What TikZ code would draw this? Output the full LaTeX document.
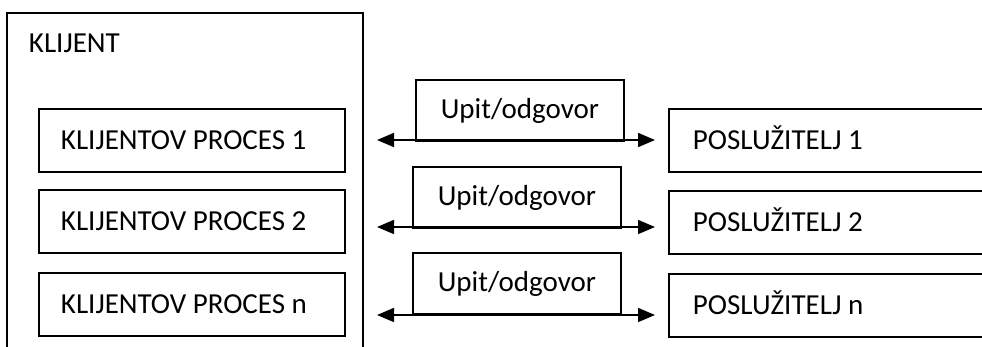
\documentclass[tikz,border=0pt]{standalone}
\usepackage{fontspec}
\setmainfont{Carlito}
\usetikzlibrary{arrows.meta}
\begin{document}
\begin{tikzpicture}[x=1pt,y=-1pt,
  font=\fontsize{29}{34}\selectfont,
  every node/.style={line width=1.9pt},
  procbox/.style={draw, anchor=north west, minimum width=306pt, minimum height=63pt,
    text width=262pt, inner xsep=22pt, inner ysep=0pt, align=flush left,
    text height=18.7pt, text depth=0pt},
  srvbox/.style={draw, anchor=north west, minimum width=340pt, minimum height=63pt,
    text width=292pt, inner xsep=24pt, inner ysep=0pt, align=flush left,
    text height=18.7pt, text depth=0pt},
  msgbox/.style={draw, anchor=north west, minimum width=208pt, inner xsep=0pt, inner ysep=0pt,
    text height=39pt, text depth=22pt},
  conn/.style={line width=1.7pt, {Triangle[length=17pt,width=14pt]}-{Triangle[length=17pt,width=14pt]}}
]
\clip (0,0) rectangle (982,346);
% outer client box
\node[draw, anchor=north west, minimum width=356pt, minimum height=360pt, inner sep=0pt] (klijent) at (6,12) {};
\node[anchor=base west, inner sep=0pt] (kl) at (28,52) {KLIJENT};
% client processes
\node[procbox] (cp1) at (38,108) {KLIJENTOV PROCES 1};
\node[procbox] (cp2) at (38,189) {KLIJENTOV PROCES 2};
\node[procbox] (cp3) at (38,272) {KLIJENTOV PROCES n};
% servers
\node[srvbox] (s1) at (668,108) {POSLUŽITELJ 1};
\node[srvbox] (s2) at (668,190) {POSLUŽITELJ 2};
\node[srvbox] (s3) at (668,273) {POSLUŽITELJ n};
% message boxes
\node[msgbox] (m1) at (415,79) {Upit/odgovor};
\node[msgbox] (m2) at (412,166) {Upit/odgovor};
\node[msgbox] (m3) at (412,252) {Upit/odgovor};
% arrow ends
\coordinate (a1l) at (377,140); \coordinate (a1r) at (655,140);
\coordinate (a2l) at (377,227); \coordinate (a2r) at (655,227);
\coordinate (a3l) at (377,315); \coordinate (a3r) at (655,315);
\draw[conn] (a1l) -- (a1r);
\draw[conn] (a2l) -- (a2r);
\draw[conn] (a3l) -- (a3r);
\end{tikzpicture}
\end{document}
